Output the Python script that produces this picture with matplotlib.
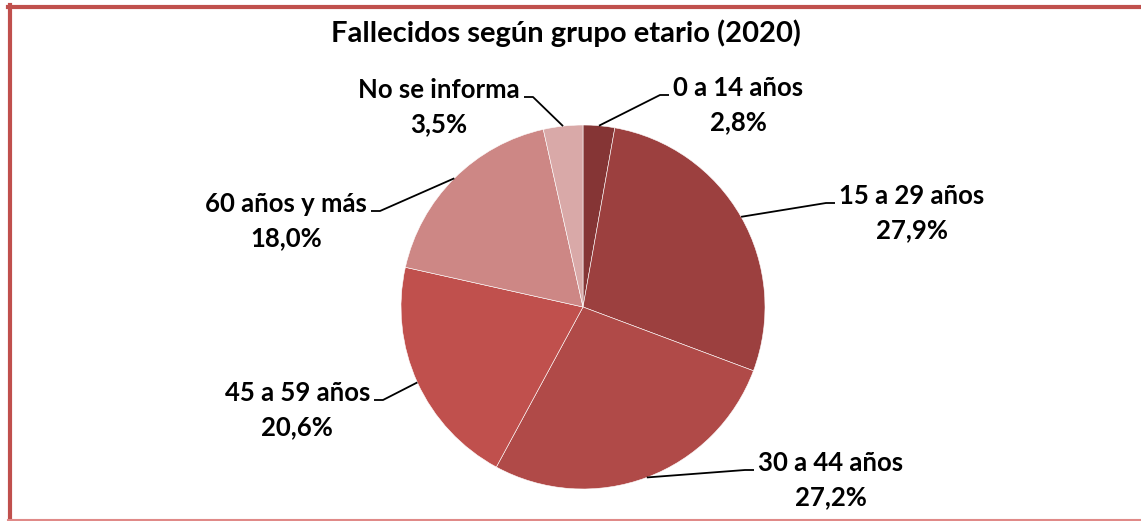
import numpy as np
import matplotlib
matplotlib.use("Agg")
from matplotlib import pyplot as plt
from matplotlib.lines import Line2D

plt.rcParams['font.family'] = ['Lato', 'DejaVu Sans']

# data
groups = ['0 a 14 años', '15 a 29 años', '30 a 44 años',
          '45 a 59 años', '60 años y más', 'No se informa']
shares = [2.8, 27.9, 27.2, 20.6, 18.0, 3.5]
colors = ['#853535', '#9C403F', '#B04A48', '#C0504D', '#CD8785', '#D9A9A8']
title = 'Fallecidos según grupo etario (2020)'

# label layout in pixels (elbow of leader line, side of the text)
elbows = [(660, 95), (826, 203), (745, 470), (383, 400), (380, 211), (533, 97)]
sides = [1, 1, 1, -1, -1, -1]

W, H = 1141, 521
fig = plt.figure(figsize=(W / 100, H / 100), dpi=100)
ax = fig.add_axes([0, 0, 1, 1])
ax.set_xlim(0, W)
ax.set_ylim(H, 0)
ax.set_aspect('equal')
ax.axis('off')

cx, cy, r = 583, 307, 182
wedges, _ = ax.pie(shares, colors=colors, startangle=90, counterclock=False,
                   center=(cx, -cy), radius=r,
                   wedgeprops=dict(edgecolor='white', linewidth=0.4))
# pie draws in y-up space; flip to match pixel axis
for w in wedges:
    w.set_center((cx, cy))
    t1, t2 = w.theta1, w.theta2
    w.set_theta1(-t2)
    w.set_theta2(-t1)
ax.set_xlim(0, W)
ax.set_ylim(H, 0)

for w, name, val, (ex, ey), s in zip(wedges, groups, shares, elbows, sides):
    mid = np.deg2rad((w.theta1 + w.theta2) / 2)
    px, py = cx + r * np.cos(mid), cy + r * np.sin(mid)
    hx = ex + s * 9
    ax.plot([px, ex, hx], [py, ey, ey], color='black', lw=1.3,
            solid_capstyle='butt')
    lbl = f'{name}\n{val:.1f}%'.replace('.', ',')
    ax.text(hx + s * 4, ey + 10, lbl, ha='left' if s > 0 else 'right',
            va='center', multialignment='center', fontsize=18.5,
            fontweight='bold', linespacing=1.5)

ax.text(W / 2 - 5, 33, title, ha='center', va='center', fontsize=21,
        fontweight='bold')

# chart frame (top, left, bottom)
border = '#C0504D'
fig.add_artist(Line2D([8 / W, 1], [1 - 6.5 / H, 1 - 6.5 / H], color=border, lw=3))
fig.add_artist(Line2D([10 / W, 10 / W], [0, 1 - 5 / H], color=border, lw=3))
fig.add_artist(Line2D([8 / W, 1], [1.2 / H, 1.2 / H], color='#E08A88', lw=1.5))

fig.savefig('out.png', dpi=100)
